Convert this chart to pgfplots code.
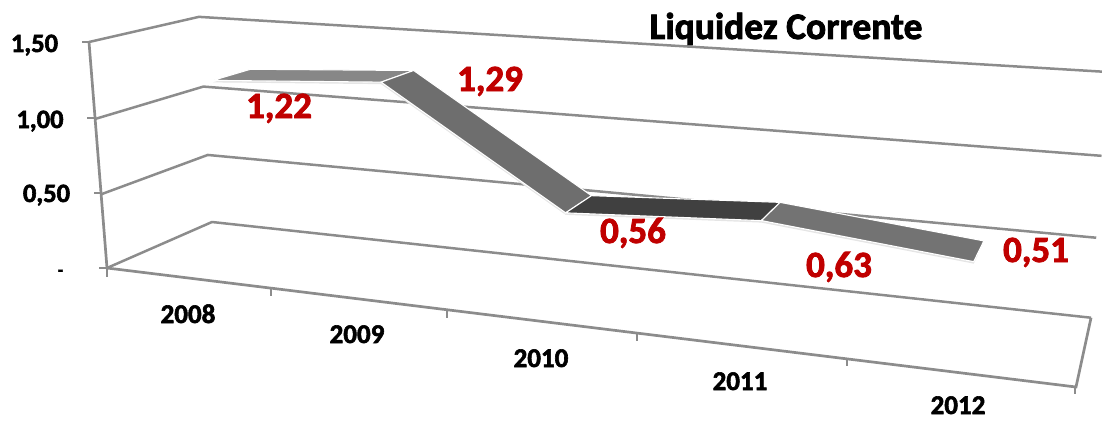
\documentclass[border=0pt]{standalone}
\usepackage{fontspec}
\setmainfont[BoldFeatures={FakeBold=2.2}]{Carlito}
\usepackage{pgfplots}
\pgfplotsset{compat=1.18}

\definecolor{wall}{HTML}{8C8C8C}
\definecolor{valred}{HTML}{C00000}

\pgfplotsset{
  /pgfplots/table/proj/.style={
    row sep=\\,
    x expr={px(\thisrow{u},\thisrow{d},\thisrow{v})},
    y expr={py(\thisrow{u},\thisrow{d},\thisrow{v})},
  },
}

% One wall gridline at value #1: side wall, then back wall.
\newcommand\gridat[1]{%
  \addplot[wall,line width=2.5pt,line join=round] table[proj]{
    u d v \\ 0 0 #1 \\ 0 1 #1 \\ 1 1 #1 \\
  };
}
% One ribbon segment: years #1 and #3 (index 0..4), values #2 and #4, fill #5.
\newcommand\ribbon[5]{%
  \addplot[draw=none,fill=black!10] table[proj,x expr={px((\thisrow{u}+0.5)/5,\thisrow{d},\thisrow{v})},
      y expr={py((\thisrow{u}+0.5)/5,\thisrow{d},\thisrow{v})+2}]{
    u d v \\ #1 0.35 #2 \\ #3 0.35 #4 \\ #3 0.5 #4 \\ #1 0.5 #2 \\
  } -- cycle;
  \addplot[draw=white,line width=1.1pt,fill=#5] table[proj,x expr={px((\thisrow{u}+0.5)/5,\thisrow{d},\thisrow{v})},
      y expr={py((\thisrow{u}+0.5)/5,\thisrow{d},\thisrow{v})}]{
    u d v \\ #1 0.35 #2 \\ #1 0.72 #2 \\ #3 0.72 #4 \\ #3 0.35 #4 \\
  } -- cycle;
}

\begin{document}
% Perspective box: u along the years (0..1), d into the depth (0..1), v in value units.
\begin{tikzpicture}[declare function={
    wt(\u,\d,\v)=1-0.19*\u+0.1056*\d-0.032*\v/1.5;
    px(\u,\d,\v)=(107+764.56*\u+127.39*\d-20.85*\v/1.5)/wt(\u,\d,\v);
    py(\u,\d,\v)=(268+45.47*\u-22.56*\d-227.34*\v/1.5)/wt(\u,\d,\v);
  }]
\begin{axis}[
  hide axis,
  scale only axis,
  width=1102pt,height=420pt,
  xmin=0,xmax=1102,ymin=0,ymax=420,
  y dir=reverse,
  clip mode=individual,
  every axis plot/.append style={no markers},
]
  % walls
  \gridat{0}
  \gridat{0.5}
  \gridat{1}
  \gridat{1.5}
  % value axis and floor front edge
  \addplot[wall,line width=2.7pt] table[proj]{
    u d v \\ 0 0 1.5 \\ 0 0 0 \\ 1 0 0 \\ 1 1 0 \\
  };
  % tick marks
  \addplot[wall,line width=2pt] coordinates {(82,42) (89,42)};
  \addplot[wall,line width=2pt] coordinates {(87,118) (96,118)};
  \addplot[wall,line width=2pt] coordinates {(94,193) (102,193)};
  \addplot[wall,line width=2pt] coordinates {(99,268) (107,268)};
  \addplot[wall,line width=2pt] coordinates {(107,268) (107,277)};
  \addplot[wall,line width=2pt] coordinates {(271,288) (271,296)};
  \addplot[wall,line width=2pt] coordinates {(447,309) (447,318)};
  \addplot[wall,line width=2pt] coordinates {(637,332) (637,341)};
  \addplot[wall,line width=2pt] coordinates {(847,358) (847,366)};
  \addplot[wall,line width=2pt] coordinates {(1075,386) (1075,394)};

  % Liquidez Corrente, one ribbon segment per pair of years
  \ribbon{0}{1.22}{1}{1.29}{black!47}
  \ribbon{1}{1.29}{2}{0.56}{black!57}
  \ribbon{2}{0.56}{3}{0.63}{black!75}
  \ribbon{3}{0.63}{4}{0.51}{black!55}

  \node[anchor=base,font=\bfseries\fontsize{37.5}{37.5}\selectfont] at (axis cs:786,39) {Liquidez Corrente};

  % value labels
  \begin{scope}[every node/.style={anchor=base,text=valred,font=\bfseries\fontsize{37}{37}\selectfont}]
    \node at (axis cs:279,118) {1,22};
    \node at (axis cs:490,91) {1,29};
    \node at (axis cs:633,243) {0,56};
    \node at (axis cs:839,277) {0,63};
    \node at (axis cs:1036,262) {0,51};
  \end{scope}

  % value axis labels
  \begin{scope}[every node/.style={anchor=base,font=\bfseries\fontsize{26.5}{26.5}\selectfont}]
    \node at (axis cs:34.5,52) {1,50};
    \node at (axis cs:40,128) {1,00};
    \node at (axis cs:46.5,202) {0,50};
    \node[font=\bfseries\fontsize{18}{18}\selectfont] at (axis cs:60.5,276) {-};
  \end{scope}

  % year labels
  \begin{scope}[every node/.style={anchor=base,font=\bfseries\fontsize{27}{27}\selectfont}]
    \node at (axis cs:188,323) {2008};
    \node at (axis cs:357,343) {2009};
    \node at (axis cs:541,367) {2010};
    \node at (axis cs:740,390) {2011};
    \node at (axis cs:958,414) {2012};
  \end{scope}

  \coordinate (frameA) at (axis cs:0,0);
  \coordinate (frameB) at (axis cs:1102,420);
\end{axis}
\pgfresetboundingbox
\useasboundingbox (frameA) rectangle (frameB);
\end{tikzpicture}
\end{document}
